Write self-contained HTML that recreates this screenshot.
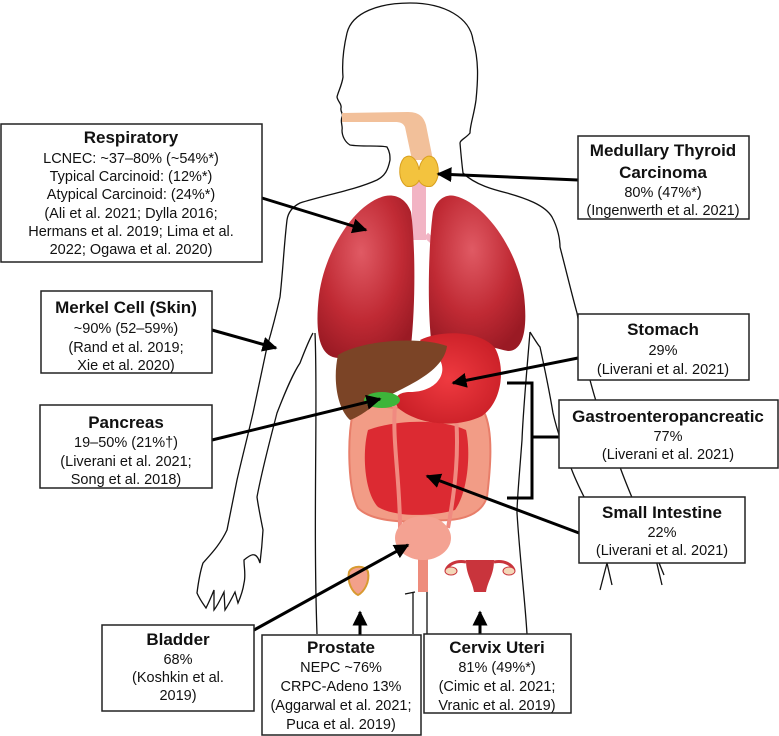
<!DOCTYPE html>
<html><head><meta charset="utf-8"><style>
html,body{margin:0;padding:0;background:#fff;}
svg{display:block;}
text{font-family:"Liberation Sans",Arial,sans-serif;fill:#111;}
.t{font-weight:bold;font-size:17px;}
.b{font-size:14.5px;}
</style></head><body>
<svg width="779" height="736" viewBox="0 0 779 736" xmlns="http://www.w3.org/2000/svg">
<defs>
<radialGradient id="lung" cx="0.45" cy="0.35" r="0.7"><stop offset="0" stop-color="#e05a64"/><stop offset="0.6" stop-color="#c02a34"/><stop offset="1" stop-color="#9a1a24"/></radialGradient>
<radialGradient id="stom" cx="0.5" cy="0.5" r="0.6"><stop offset="0" stop-color="#ef3a40"/><stop offset="1" stop-color="#c81e26"/></radialGradient>
<marker id="ah" viewBox="0 0 10 10" refX="9" refY="5" markerWidth="5" markerHeight="5" orient="auto"><path d="M0,0 L10,5 L0,10 Z" fill="#000"/></marker>
</defs>
<!-- body outline -->
<g fill="none" stroke="#111" stroke-width="1.3">
<path d="M347,33 C352,12 380,3 410,3 C445,3 470,18 473,40 C479,60 478,80 476,100 C474,115 470,125 470,133 C466,138 460,140 460,143 C461,155 462,165 463,173 C475,185 495,190 507,193 C525,198 545,205 552,217 C558,228 560,240 560,247 C566,270 572,295 577,313 C582,340 586,360 590,380 C594,395 597,405 600,413 C607,430 614,450 620,467 C630,495 642,520 653,547 C656,556 660,565 664,575 M653,547 L662,585"/>
<path d="M530,332 C535,340 538,345 540,347 C545,370 550,395 553,413 C558,435 566,455 573,473 C582,495 592,512 600,527 C604,540 606,552 607,563 L612,585 M607,563 L600,590"/>
<path d="M347,33 C343,50 342,65 343,77 C342,85 338,92 337,97 C338,102 342,104 341,108 C340,112 344,114 342,117 C340,122 343,126 342,130 C342,136 345,142 350,145 C362,147 380,145 387,147 C390,152 390,156 390,160 C388,170 385,176 377,180 C355,190 325,195 300,203 C292,207 288,213 287,220 C284,245 283,270 280,297 C276,315 272,330 267,347 C262,370 258,390 253,413 C248,435 242,458 237,480 C233,500 230,515 227,530 C220,545 210,555 203,563 C200,572 198,585 197,593 C200,600 204,605 206,608 C210,600 212,595 214,590 L214,610 C218,605 221,598 224,592 L225,610 C229,604 232,598 235,592 L238,603 C241,596 243,590 244,583 C246,575 244,568 244,560 C250,555 256,550 260,563 C261,555 262,547 263,530 C260,515 258,505 257,497 C262,470 270,440 277,413 C284,395 292,375 300,363 C305,350 309,340 313,333"/>
<path d="M315,333 C318,400 313,520 317,634"/>
<path d="M530,332 C526,380 523,413 522,440 C519,480 517,500 517,513 C520,560 525,600 527,634"/>
<path d="M413,592 L413,634 M427,592 L427,634 M405,594 L415,592"/>
</g>
<!-- pharynx -->
<path d="M342,113 L408,112 C420,112 424,118 426,125 L433,160 L412,160 L405,127 C403,123 400,122 395,122 L342,122 Z" fill="#f2c09a"/>
<!-- trachea -->
<rect x="412" y="180" width="14" height="60" fill="#f2b4c4"/>
<path d="M412,235 L395,250 M426,235 L442,250" stroke="#f2b4c4" stroke-width="6"/>
<!-- thyroid -->
<path d="M404,158 C412,152 418,162 419,170 C420,162 426,152 434,158 C440,165 440,180 432,186 C426,188 420,184 419,180 C418,184 412,188 406,186 C398,180 398,165 404,158Z" fill="#f3c33e" stroke="#d9a020" stroke-width="1"/>
<!-- lungs -->
<path d="M385,196 C355,203 325,250 319,295 C315,330 318,357 338,358 C362,352 390,342 411,346 C416,300 415,240 411,212 C406,198 395,194 385,196Z" fill="url(#lung)"/>
<path d="M455,196 C485,203 518,250 524,295 C528,330 523,351 508,351 C485,346 460,336 431,339 C427,300 429,240 433,212 C437,198 447,194 455,196Z" fill="url(#lung)"/>
<!-- intestines -->
<path d="M353,412 C362,404 380,406 395,408 C420,404 460,402 484,412 C494,432 490,472 487,497 C481,516 460,522 430,520 C400,524 370,520 358,508 C348,490 347,440 353,412Z" fill="#f29c86" stroke="#e87e6a" stroke-width="2"/>
<path d="M368,430 C395,420 440,418 466,430 C471,452 468,492 455,510 C430,517 395,517 378,507 C364,492 362,452 368,430Z" fill="#dc2a32"/>
<path d="M395,405 C392,440 400,480 400,528 M455,405 C460,450 455,490 448,528" stroke="#f08a80" stroke-width="4" fill="none"/>
<!-- stomach -->
<path d="M420,340 C440,330 480,330 495,348 C506,368 502,402 482,416 C458,428 420,426 398,408 C392,398 398,392 410,392 C435,392 448,375 440,360 C432,352 425,348 420,340Z" fill="url(#stom)"/>
<!-- liver -->
<path d="M338,355 C362,340 420,336 447,346 C444,370 412,384 388,396 C372,406 362,416 350,420 C336,407 333,377 338,355Z" fill="#7b4426"/>
<!-- pancreas -->
<ellipse cx="382" cy="400" rx="18" ry="8" fill="#3db53a"/>
<!-- bladder -->
<rect x="418" y="550" width="10" height="42" fill="#ee8c7c"/>
<ellipse cx="423" cy="538" rx="28" ry="22" fill="#f4a292"/>
<!-- prostate -->
<path d="M349,572 C352,565 366,565 368,572 C370,582 364,592 358,595 C352,592 347,582 349,572Z" fill="#f2a08a" stroke="#d89a30" stroke-width="2"/>
<!-- uterus -->
<path d="M466,560 L494,560 C494,575 488,580 486,592 L474,592 C472,580 466,575 466,560Z" fill="#c9343c"/>
<path d="M466,562 C455,560 448,565 446,570 M494,562 C505,560 512,565 514,570" stroke="#c9343c" stroke-width="3" fill="none"/>
<ellipse cx="451" cy="571" rx="6" ry="4" fill="#f3d7b8" stroke="#c9343c"/>
<ellipse cx="509" cy="571" rx="6" ry="4" fill="#f3d7b8" stroke="#c9343c"/>
<!-- arrows -->
<g stroke="#000" stroke-width="3" fill="none" marker-end="url(#ah)">
<line x1="262" y1="198" x2="366" y2="230"/>
<line x1="578" y1="180" x2="438" y2="174"/>
<line x1="212" y1="330" x2="276" y2="348"/>
<line x1="212" y1="440" x2="380" y2="399"/>
<line x1="578" y1="358" x2="453" y2="383"/>
<line x1="579" y1="533" x2="427" y2="476"/>
<line x1="254" y1="630" x2="408" y2="545"/>
<line x1="360" y1="635" x2="360" y2="612"/>
<line x1="480" y1="634" x2="480" y2="612"/>
</g>
<path d="M507,383 L532,383 L532,498 L507,498 M532,437 L559,437" stroke="#000" stroke-width="3" fill="none"/>
<!-- boxes -->
<g fill="#fff" stroke="#222" stroke-width="1.5">
<rect x="1" y="124" width="261" height="138"/>
<rect x="41" y="291" width="171" height="82"/>
<rect x="40" y="405" width="172" height="83"/>
<rect x="578" y="136" width="171" height="83"/>
<rect x="578" y="314" width="171" height="66"/>
<rect x="559" y="400" width="219" height="68"/>
<rect x="579" y="497" width="166" height="66"/>
<rect x="102" y="625" width="152" height="86"/>
<rect x="262" y="635" width="159" height="100"/>
<rect x="424" y="634" width="147" height="79"/>
</g>
<g text-anchor="middle">
<text class="t" x="131" y="143">Respiratory</text>
<text class="b" x="131" y="163">LCNEC: ~37–80% (~54%*)</text>
<text class="b" x="131" y="181">Typical Carcinoid: (12%*)</text>
<text class="b" x="131" y="199">Atypical Carcinoid: (24%*)</text>
<text class="b" x="131" y="218">(Ali et al. 2021; Dylla 2016;</text>
<text class="b" x="131" y="236">Hermans et al. 2019; Lima et al.</text>
<text class="b" x="131" y="254">2022; Ogawa et al. 2020)</text>

<text class="t" x="126" y="313">Merkel Cell (Skin)</text>
<text class="b" x="126" y="333">~90% (52–59%)</text>
<text class="b" x="126" y="352">(Rand et al. 2019;</text>
<text class="b" x="126" y="370">Xie et al. 2020)</text>

<text class="t" x="126" y="428">Pancreas</text>
<text class="b" x="126" y="447">19–50% (21%†)</text>
<text class="b" x="126" y="466">(Liverani et al. 2021;</text>
<text class="b" x="126" y="484">Song et al. 2018)</text>

<text class="t" x="663" y="156">Medullary Thyroid</text>
<text class="t" x="663" y="178">Carcinoma</text>
<text class="b" x="663" y="197">80% (47%*)</text>
<text class="b" x="663" y="215">(Ingenwerth et al. 2021)</text>

<text class="t" x="663" y="335">Stomach</text>
<text class="b" x="663" y="355">29%</text>
<text class="b" x="663" y="374">(Liverani et al. 2021)</text>

<text class="t" x="668" y="422">Gastroenteropancreatic</text>
<text class="b" x="668" y="441">77%</text>
<text class="b" x="668" y="459">(Liverani et al. 2021)</text>

<text class="t" x="662" y="518">Small Intestine</text>
<text class="b" x="662" y="537">22%</text>
<text class="b" x="662" y="555">(Liverani et al. 2021)</text>

<text class="t" x="178" y="645">Bladder</text>
<text class="b" x="178" y="664">68%</text>
<text class="b" x="178" y="682">(Koshkin et al.</text>
<text class="b" x="178" y="700">2019)</text>

<text class="t" x="341" y="653">Prostate</text>
<text class="b" x="341" y="672">NEPC ~76%</text>
<text class="b" x="341" y="691">CRPC-Adeno 13%</text>
<text class="b" x="341" y="710">(Aggarwal et al. 2021;</text>
<text class="b" x="341" y="729">Puca et al. 2019)</text>

<text class="t" x="497" y="653">Cervix Uteri</text>
<text class="b" x="497" y="672">81% (49%*)</text>
<text class="b" x="497" y="691">(Cimic  et al. 2021;</text>
<text class="b" x="497" y="710">Vranic et al. 2019)</text>
</g>
</svg>
</body></html>
